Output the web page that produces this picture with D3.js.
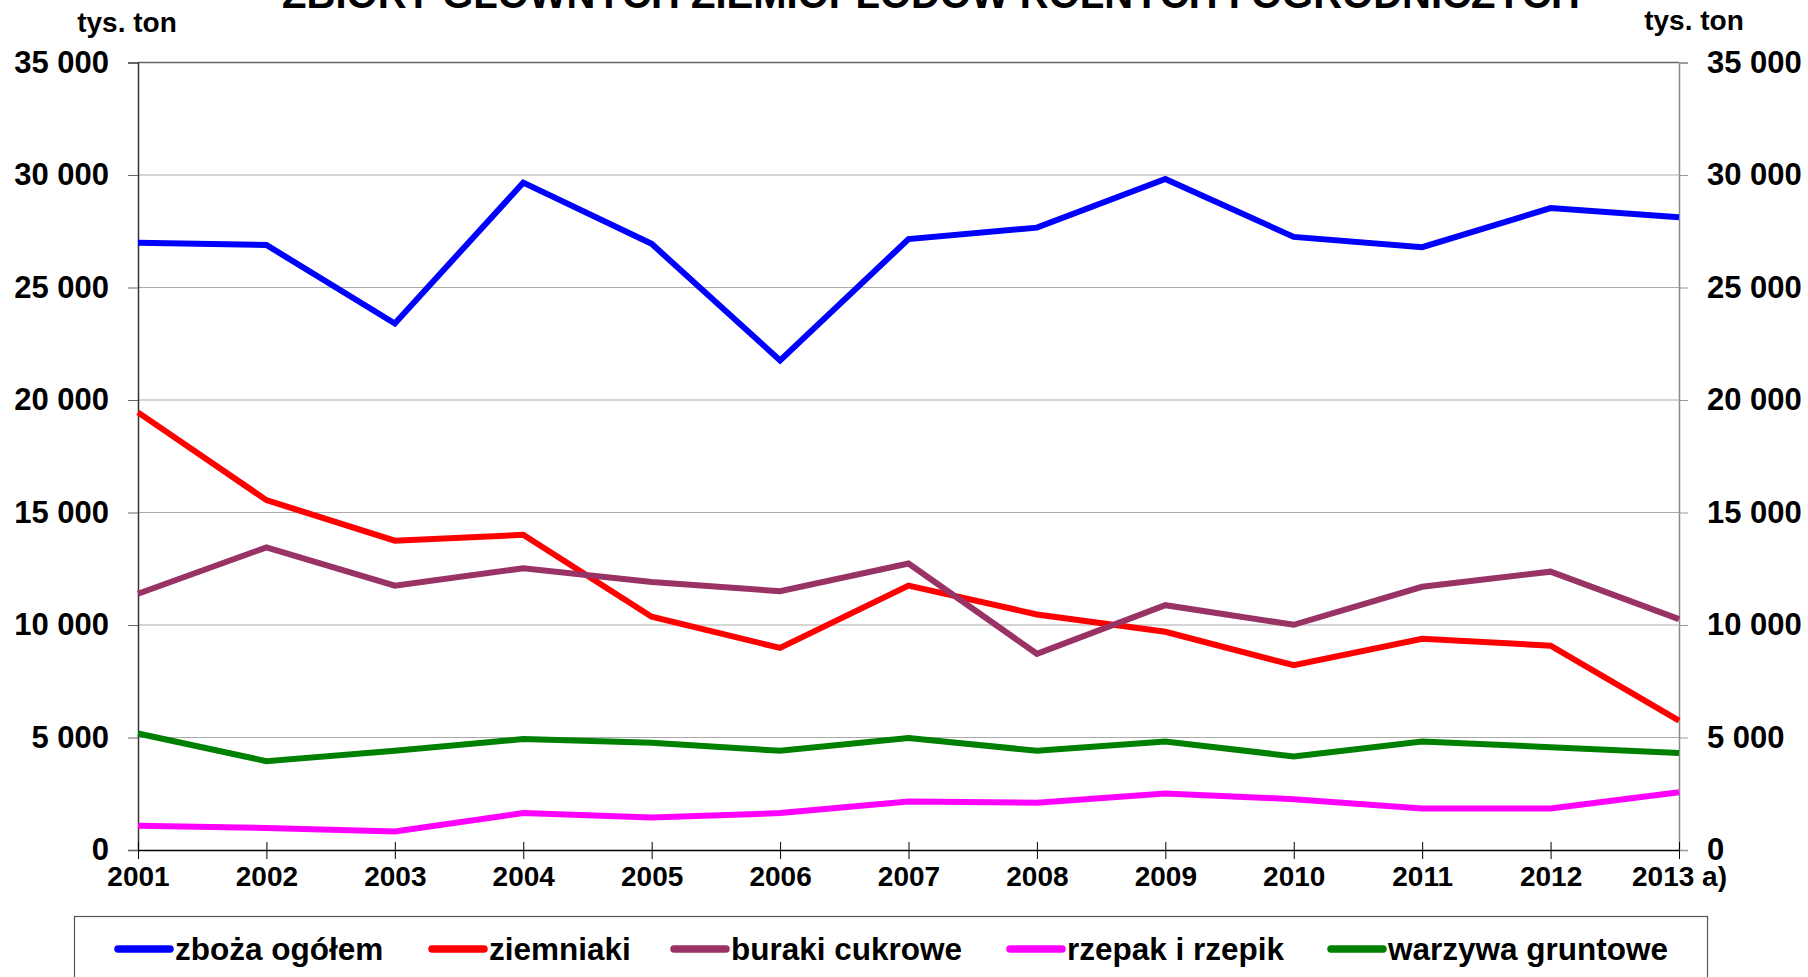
<!DOCTYPE html>
<html>
<head>
<meta charset="utf-8">
<script src="https://cdn.jsdelivr.net/npm/d3@7"></script>
<style>
    body { margin: 0; background: #fff; }
    svg { display: block; font-family: "Liberation Sans", Arial, sans-serif; font-weight: bold; }
</style>
</head>
<body>
<svg id="chart" width="1808" height="977"></svg>
<script>
// tick labels / categories
const years = ['2001', '2002', '2003', '2004', '2005', '2006', '2007', '2008', '2009', '2010', '2011', '2012', '2013 a)'];
const yTicks = [0, 5000, 10000, 15000, 20000, 25000, 30000, 35000];

// series values (tys. ton)
const zboza = [26990, 26890, 23400, 29660, 26940, 21760, 27150, 27660, 29820, 27250, 26790, 28530, 28120];
const ziemniaki = [19450, 15550, 13750, 14010, 10370, 8980, 11750, 10470, 9700, 8210, 9390, 9080, 5750];
const buraki = [11390, 13450, 11750, 12520, 11910, 11500, 12730, 8720, 10880, 10010, 11700, 12370, 10260];
const rzepak = [1080, 980, 820, 1640, 1440, 1640, 2150, 2100, 2510, 2260, 1850, 1850, 2570];
const warzywa = [5180, 3950, 4410, 4930, 4770, 4410, 4980, 4410, 4820, 4160, 4820, 4570, 4310];

const seriesNames = ['zboża ogółem', 'ziemniaki', 'buraki cukrowe', 'rzepak i rzepik', 'warzywa gruntowe'];
const seriesColors = ['#0000ff', '#ff0000', '#993366', '#ff00ff', '#008000'];

const title = 'ZBIORY GŁÓWNYCH ZIEMIOPŁODÓW ROLNYCH I OGRODNICZYCH';
const unit = 'tys. ton';

const series = [zboza, ziemniaki, buraki, rzepak, warzywa].map((values, i) => ({
    name: seriesNames[i],
    color: seriesColors[i],
    values: values.map((v, j) => ({year: years[j], value: v}))
}));

const svg = d3.select('#chart');

// plot area
const plotLeft = 138, plotRight = 1679, plotTop = 62.5, plotBottom = 850;

const xScale = d3.scalePoint()
    .domain(years)
    .range([plotLeft, plotRight]);
const yScale = d3.scaleLinear()
    .domain([0, 35000])
    .range([plotBottom, plotTop]);

const fmt = d3.formatLocale({decimal: ',', thousands: ' ', grouping: [3], currency: ['', '']}).format(',');

// grid lines
svg.append('g')
    .selectAll('line')
    .data(yTicks.filter((t) => t > 0))
    .enter()
    .append('line')
    .attr('x1', plotLeft)
    .attr('x2', plotRight)
    .attr('y1', (d) => yScale(d))
    .attr('y2', (d) => yScale(d))
    .attr('stroke', (d) => d === 35000 ? '#666' : '#aaa')
    .attr('stroke-width', (d) => d === 35000 ? 1.5 : 1);

// left axis
const yAxisLeft = svg.append('g')
    .attr('transform', `translate(${plotLeft}, 0)`)
    .call(d3.axisLeft(yScale).tickValues(yTicks).tickFormat(fmt).tickSize(10).tickPadding(19));
yAxisLeft.select('.domain').attr('stroke', '#333').attr('stroke-width', 1.5);
yAxisLeft.selectAll('.tick line').attr('stroke', '#666');
yAxisLeft.selectAll('text')
    .attr('font-size', 31)
    .attr('font-family', '"Liberation Sans", Arial, sans-serif')
    .attr('font-weight', 'bold')
    .attr('fill', '#000');

// right axis
const yAxisRight = svg.append('g')
    .attr('transform', `translate(${plotRight}, 0)`)
    .call(d3.axisRight(yScale).tickValues(yTicks).tickFormat(fmt).tickSize(9).tickPadding(19));
yAxisRight.select('.domain').attr('stroke', '#888').attr('stroke-width', 1.5);
yAxisRight.selectAll('.tick line').attr('stroke', '#999');
yAxisRight.selectAll('text')
    .attr('font-size', 31)
    .attr('font-family', '"Liberation Sans", Arial, sans-serif')
    .attr('font-weight', 'bold')
    .attr('fill', '#000');

// bottom axis
const xAxis = svg.append('g')
    .attr('transform', `translate(0, ${plotBottom})`)
    .call(d3.axisBottom(xScale).tickSize(9).tickSizeOuter(0).tickPadding(7));
xAxis.select('.domain').attr('stroke', '#000').attr('stroke-width', 1.5);
xAxis.selectAll('.tick line').attr('stroke', '#000').attr('y1', -8);
xAxis.selectAll('text')
    .attr('font-size', 28)
    .attr('font-family', '"Liberation Sans", Arial, sans-serif')
    .attr('font-weight', 'bold')
    .attr('fill', '#000');

// unit labels
svg.append('text')
    .attr('x', 127)
    .attr('y', 32)
    .attr('text-anchor', 'middle')
    .attr('font-size', 28)
    .text(unit);
svg.append('text')
    .attr('x', 1694)
    .attr('y', 30)
    .attr('text-anchor', 'middle')
    .attr('font-size', 28)
    .text(unit);

// title (cut at top edge, as in the source)
svg.append('text')
    .attr('x', 931)
    .attr('y', 8)
    .attr('text-anchor', 'middle')
    .attr('font-size', 40)
    .text(title);

// lines
const line = d3.line()
    .x((d) => xScale(d.year))
    .y((d) => yScale(d.value));

svg.append('g')
    .selectAll('path')
    .data(series)
    .enter()
    .append('path')
    .attr('d', (d) => line(d.values))
    .attr('fill', 'none')
    .attr('stroke', (d) => d.color)
    .attr('stroke-width', 6)
    .attr('stroke-linejoin', 'miter')
    .attr('stroke-linecap', 'butt');

// legend
svg.append('rect')
    .attr('x', 74.5)
    .attr('y', 916.5)
    .attr('width', 1633)
    .attr('height', 120)
    .attr('fill', 'none')
    .attr('stroke', '#555')
    .attr('stroke-width', 1.2);

const legendX = [115, 429, 671, 1007, 1328];
const legend = svg.append('g')
    .selectAll('g')
    .data(series)
    .enter()
    .append('g')
    .attr('transform', (d, i) => `translate(${legendX[i]}, 949)`);
legend.append('line')
    .attr('x1', 3)
    .attr('x2', 55)
    .attr('stroke', (d) => d.color)
    .attr('stroke-width', 7.5)
    .attr('stroke-linecap', 'round');
legend.append('text')
    .attr('x', 60)
    .attr('y', 11)
    .attr('font-size', 31.5)
    .text((d) => d.name);
</script>
</body>
</html>
